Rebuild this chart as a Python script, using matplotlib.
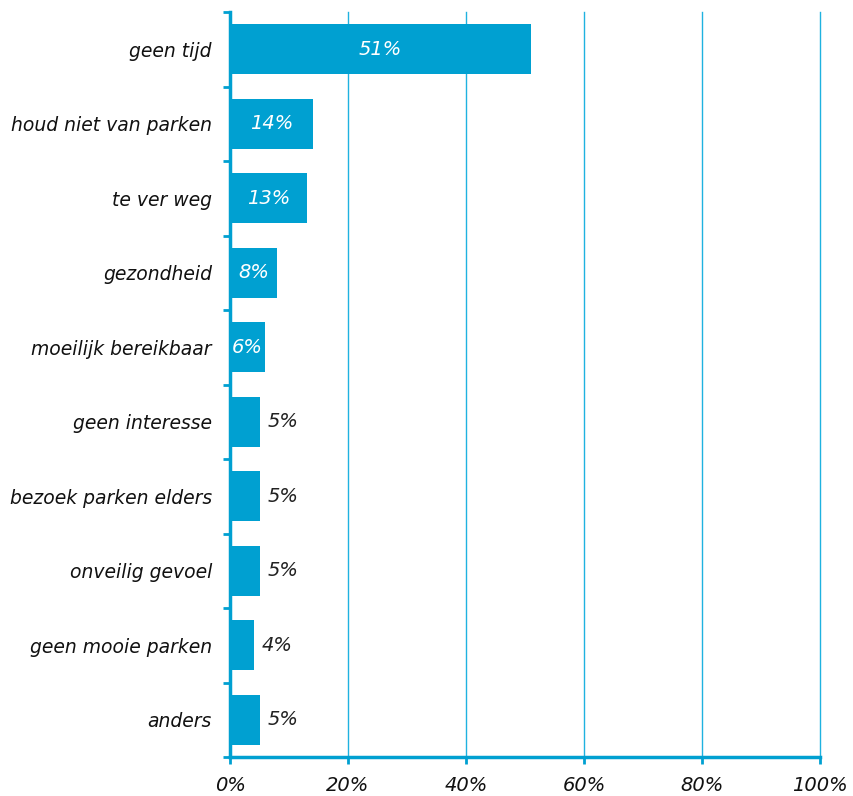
import matplotlib.pyplot as plt
from matplotlib.ticker import FixedLocator, PercentFormatter

# data
categories = ['geen tijd', 'houd niet van parken', 'te ver weg', 'gezondheid',
              'moeilijk bereikbaar', 'geen interesse', 'bezoek parken elders',
              'onveilig gevoel', 'geen mooie parken', 'anders']
values = [51, 14, 13, 8, 6, 5, 5, 5, 4, 5]
x_ticks = [0, 20, 40, 60, 80, 100]

bar_color = '#00a0d1'
grid_color = '#1fb2e0'

plt.rcParams['font.family'] = ['DejaVu Sans']

fig = plt.figure(figsize=(8.54, 7.96), dpi=100)
ax = fig.add_axes([230 / 854, 1 - 757 / 796, 590 / 854, 745 / 796])

n = len(categories)
pos = list(range(n))
ax.barh(pos, values, height=0.67, color=bar_color, zorder=3)

for p, v in zip(pos, values):
    if v >= 6:
        ax.text(v / 2, p, f'{v}%', ha='center', va='center', color='white',
                style='italic', fontsize=14, zorder=4)
    else:
        ax.text(v + 1.3, p, f'{v}%', ha='left', va='center', color='#222222',
                style='italic', fontsize=14, zorder=4)

ax.set_xlim(0, 100)
ax.set_ylim(n - 0.5, -0.5)
ax.set_xticks(x_ticks)
ax.xaxis.set_major_formatter(PercentFormatter(decimals=0))
ax.grid(axis='x', color=grid_color, linewidth=1, zorder=0)
for gl in ax.get_xgridlines():
    gl.set_clip_on(False)

# category labels at centers, tick marks at boundaries
ax.set_yticks(pos)
ax.set_yticklabels(categories, style='italic', fontsize=13.5, color='#111111')
ax.yaxis.set_minor_locator(FixedLocator([i - 0.5 for i in range(n + 1)]))
ax.tick_params(axis='y', which='major', length=0, pad=13)
ax.tick_params(axis='y', which='minor', length=5, width=2, color=bar_color)
ax.tick_params(axis='x', length=5, width=2, color=bar_color, pad=9,
               labelsize=14)
for lab in ax.get_xticklabels():
    lab.set_style('italic')
    lab.set_color('#111111')

for side in ['top', 'right']:
    ax.spines[side].set_visible(False)
ax.spines['left'].set_color(bar_color)
ax.spines['left'].set_linewidth(2.5)
ax.spines['bottom'].set_color(bar_color)
ax.spines['bottom'].set_linewidth(2.5)

fig.savefig('out.png', dpi=100)
